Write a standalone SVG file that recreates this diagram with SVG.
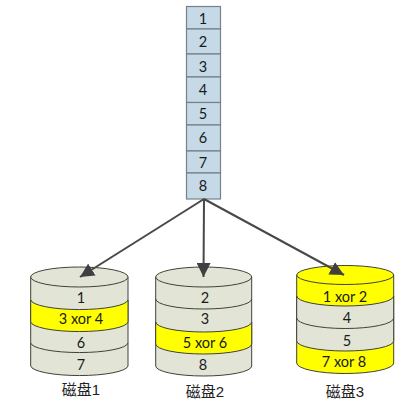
<svg xmlns="http://www.w3.org/2000/svg" width="418" height="409" viewBox="0 0 418 409">
<style>
text{font-family:"Lato","Liberation Sans",sans-serif;font-size:14.500px;fill:#1a1a1a;text-anchor:middle}
.cap{font-family:"Liberation Sans","Noto Sans CJK SC",sans-serif;font-size:15px;fill:#222}
.cell{fill:#c6d9e6;stroke:#75808a;stroke-width:1.2}
.g{fill:#e2e5d6;stroke:#3f4238;stroke-width:1}
.l{fill:none;stroke:#3f4238;stroke-width:1}
.y{fill:#ffff00;stroke:#3f4238;stroke-width:1}
.c{stroke:#484848;stroke-width:2;fill:none;marker-end:url(#a)}
</style>
<defs>
<marker id="a" markerUnits="userSpaceOnUse" markerWidth="16" markerHeight="14" refX="14" refY="7" orient="auto"><path d="M0 0L14 7L0 14z" fill="#404040"/></marker>
</defs>
<rect width="418" height="409" fill="#fff"/>
<g id="stack">
<rect class="cell" x="186.500" y="6.500" width="34" height="22.500"/>
<rect class="cell" x="186.500" y="29" width="34" height="25"/>
<rect class="cell" x="186.500" y="54" width="34" height="23"/>
<rect class="cell" x="186.500" y="77" width="34" height="25.500"/>
<rect class="cell" x="186.500" y="102.500" width="34" height="22.500"/>
<rect class="cell" x="186.500" y="125" width="34" height="26"/>
<rect class="cell" x="186.500" y="151" width="34" height="22"/>
<rect class="cell" x="186.500" y="173" width="34" height="26"/>
<text x="203" y="24">1</text><text x="203" y="47">2</text><text x="203" y="72">3</text><text x="203" y="95">4</text><text x="203" y="119">5</text><text x="203" y="143">6</text><text x="203" y="168">7</text><text x="203" y="191">8</text>
</g>
<g id="disk1">
<path class="g" d="M30.700 277V366A48.700 10 0 0 0 128 366V277z"/>
<path class="y" d="M30.700 300V322A48.700 10 0 0 0 128 322V300A48.700 10 0 0 1 30.700 300z"/>
<path class="l" d="M30.700 343A48.700 10 0 0 0 128 343"/>
<ellipse class="g" cx="79.350" cy="277" rx="48.700" ry="10"/>
<text x="81" y="303">1</text><text x="81" y="324">3 xor 4</text><text x="81" y="348">6</text><text x="81" y="370">7</text>
<text class="cap" x="81" y="395">磁盘1</text>
</g>
<g id="disk2">
<path class="g" d="M155.700 277V366A48 10 0 0 0 251.700 366V277z"/>
<path class="l" d="M155.700 299A48 10 0 0 0 251.700 299"/>
<path class="y" d="M155.700 322V344A48 10 0 0 0 251.700 344V322A48 10 0 0 1 155.700 322z"/>
<ellipse class="g" cx="203.700" cy="277" rx="48" ry="10"/>
<text x="205" y="303">2</text><text x="205" y="324">3</text><text x="205" y="348">5 xor 6</text><text x="203" y="370">8</text>
<text class="cap" x="205" y="397">磁盘2</text>
</g>
<g id="disk3">
<path class="y" d="M296.700 275V363A48.500 10.500 0 0 0 393.700 363V275z"/>
<path class="g" d="M296.700 296V341A48.500 10 0 0 0 393.700 341V296A48.500 10 0 0 1 296.700 296z"/>
<path class="l" d="M296.700 318A48.500 10.500 0 0 0 393.700 318"/>
<ellipse class="y" cx="345.200" cy="275" rx="48.500" ry="9.500"/>
<text x="345" y="302">1 xor 2</text><text x="347" y="323">4</text><text x="347" y="346">5</text><text x="344" y="367">7 xor 8</text>
<text class="cap" x="345" y="397">磁盘3</text>
</g>
<g id="connectors">
<path class="c" d="M204 199L80 277"/>
<path class="c" d="M204 199L203.500 277"/>
<path class="c" d="M204 199L344 275"/>
</g>
</svg>
